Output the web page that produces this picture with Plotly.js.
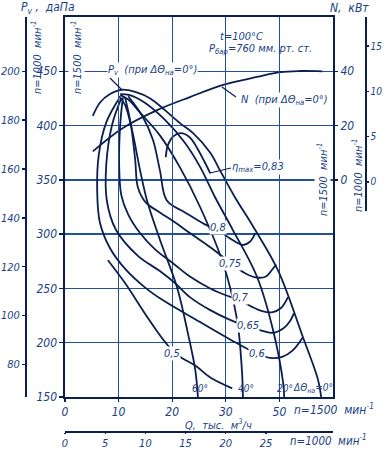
<!DOCTYPE html>
<html><head><meta charset="utf-8">
<script src="https://cdn.plot.ly/plotly-3.0.1.min.js"></script>
<style>html,body{margin:0;padding:0;background:#fff}#chart{width:384px;height:450px}</style>
</head><body><div id="chart"></div>
<script>
// ---- data (n = 1500 min^-1 scales) ----
// Q in thousand m3/h, Pv in daPa, N in kW
const q_0deg  = [5.2,6.5,8.4,10.6,13.1,15.9,18.7,21.5,23.9,27.1,28.9,31.7,35.1,39.7,44.4,47.2,47.8];
const p_0deg  = [409,421,429,433,431,425,414,402,393,375,359,334,307,267,205,166,150];
const q_20deg = [10.3,12.1,14.9,18.7,22.4,25.2,28.0,31.3,35.8,38.8,40.7,40.9];
const p_20deg = [429,428,421,405,384,362,334,304,261,212,163,150];
const q_40deg = [10.3,11.8,14.0,17.7,21.5,25.2,29.5,32.1,33.0,33.2];
const p_40deg = [428,424,412,391,361,325,273,221,175,150];
const q_60deg = [10.1,11.2,12.5,14.0,15.3,17.7,20.9,23.0,24.3,24.8];
const p_60deg = [427,419,396,359,331,295,251,207,175,150];

const q_eta083 = [18.8,19.2,20.2,21.6,23.3,24.8,26.1,27.1];
const p_eta083 = [371,382,390,393,389,378,366,356];
const q_eta080 = [11.8,14.4,16.4,17.7,19.0,22.4,26.1,28.5,30.8,33.2,34.5,35.5];
const p_eta080 = [427,409,387,359,331,320,309,304,296,290,293,301];
const q_eta075 = [11.2,12.3,13.1,13.6,15.1,17.7,20.5,23.3,27.1,30.8,33.6,35.8,37.5,38.6,39.4];
const p_eta075 = [426,401,368,343,329,320,311,301,288,274,264,260,261,267,272];
const q_eta070 = [10.8,10.3,10.1,10.5,11.8,14.0,16.8,20.2,23.3,27.1,30.4,32.7,34.9,36.8,38.6,40.3,41.6];
const p_eta070 = [426,401,364,336,318,301,286,273,261,250,243,239,233,229,228,232,242];
const q_eta065 = [10.5,8.8,7.7,7.8,9.5,13.6,17.7,20.5,23.3,27.1,30.8,34.1,36.8,38.8,40.7,42.0,42.7];
const p_eta065 = [425,401,364,331,304,280,266,255,242,230,221,215,211,209,213,220,227];
const q_eta060 = [10.1,7.7,6.3,6.0,6.5,8.4,11.4,14.9,18.3,25.2,30.8,35.8,38.3,40.5,42.5,44.4];
const p_eta060 = [425,403,373,341,311,287,267,251,239,219,203,190,186,187,193,205];
const q_eta050 = [8.0,11.2,14.9,18.3,20.0,21.8,24.3,27.1,31.2];
const p_eta050 = [276,255,227,203,193,186,179,168,158];

const q_power = [5.2,10.8,17.2,23.3,29.5,35.8,40.1,44.0,48.0];
const n_power = [10.5,19.1,25.7,30.5,35.0,37.9,39.7,40.1,40.0];

// tick labels
const q1500_ticks = [0,10,20,30,40];
const q1500_text  = ['0','10','20','30','50'];
const q1000_ticks = [0,5,10,15,20,25];
const p1500_ticks = [150,200,250,300,350,400,450];
const p1000_ticks = [80,100,120,140,160,180,200];
const n1500_ticks = [0,20,40];
const n1000_ticks = [0,5,10,15];

// ---- styling ----
const W=384,H=450;
const px=x=>x/W, py=y=>1-y/H;
const LINE='#0a1f4f', GRID='#22509a', TXT='#1a3f85';
const FONT={family:'"Liberation Sans Narrow","DejaVu Sans Condensed","Liberation Sans",sans-serif',style:'italic',color:TXT,size:12};
const f=(s)=>Object.assign({},FONT,{size:s});

function curve(q,p,ya){return {type:'scatter',mode:'lines',x:q,y:p,xaxis:'x',yaxis:ya||'y',
  line:{color:LINE,width:1.8,shape:'spline',smoothing:1},hoverinfo:'skip',showlegend:false};}
const traces=[
  curve(q_0deg,p_0deg),curve(q_20deg,p_20deg),curve(q_40deg,p_40deg),curve(q_60deg,p_60deg),
  curve(q_eta083,p_eta083),curve(q_eta080,p_eta080),curve(q_eta075,p_eta075),curve(q_eta070,p_eta070),
  curve(q_eta065,p_eta065),curve(q_eta060,p_eta060),curve(q_eta050,p_eta050),
  curve(q_power,n_power,'y2'),
  {type:'scatter',x:[],y:[],xaxis:'x',yaxis:'y3',showlegend:false,hoverinfo:'skip'},
  {type:'scatter',x:[],y:[],xaxis:'x',yaxis:'y4',showlegend:false,hoverinfo:'skip'},
  {type:'scatter',x:[],y:[],xaxis:'x2',yaxis:'y',showlegend:false,hoverinfo:'skip'}
];

function ann(text,x,y,o){return Object.assign({text:text,x:px(x),y:py(y),xref:'paper',yref:'paper',
  showarrow:false,xanchor:'center',yanchor:'middle',font:f(11)},o||{});}
function annD(text,q,p,o){return Object.assign({text:text,x:q,y:p,xref:'x',yref:'y',showarrow:false,
  bgcolor:'white',borderpad:0,font:f(11)},o||{});}
const WB={bgcolor:'white',borderpad:0};
const annotations=[
  ann('P<sub>v</sub> ,  даПа',48,8,{font:f(12)}),
  ann('N,  кВт',349,8,{font:f(12)}),
  ann('n=1000  мин<sup>-1</sup>',37,58,{textangle:-90}),
  ann('n=1500  мин<sup>-1</sup>',77,58,Object.assign({textangle:-90},WB)),
  ann('n=1500  мин<sup>-1</sup>',322,180,Object.assign({textangle:-90},WB)),
  ann('n=1000  мин<sup>-1</sup>',357,176,{textangle:-90}),
  ann('t=100°C',218,37,{xanchor:'left'}),
  ann('P<sub>бар</sub>=760 мм. рт. ст.',207,49,{xanchor:'left'}),
  ann('P<sub>v</sub>  (при ΔΘ<sub>на</sub>=0°)',152,70,WB),
  ann('N  (при ΔΘ<sub>на</sub>=0°)',284,100,WB),
  ann('η<sub>max</sub>=0,83',258,167,WB),
  ann('60°',200,388,{font:f(10)}),
  ann('40°',246,388,{font:f(10)}),
  ann('20°',285,388,{font:f(10)}),
  ann('ΔΘ<sub>на</sub>=0°',313,388,{font:f(10)}),
  ann('n=1500  мин<sup>-1</sup>',292,409,{xanchor:'left',font:f(12)}),
  ann('Q,  тыс.  м<sup>3</sup>/ч',218,424,{font:f(11)}),
  ann('n=1000  мин<sup>-1</sup>',288,440,{xanchor:'left',font:f(11.5)}),
  annD('0,8',28.5,305.7), annD('0,75',30.8,273.4), annD('0,7',32.6,241.2),
  annD('0,65',34.1,216.3), annD('0,6',35.8,190.5), annD('0,5',20.0,190.5)
];
function seg(x0,y0,x1,y1){return {type:'line',xref:'paper',yref:'paper',x0:px(x0),y0:py(y0),x1:px(x1),y1:py(y1),line:{color:LINE,width:1.2}};}
const shapes=[seg(110,78,122,90),seg(236,97,222,87),seg(231,168,210,173)];

const axBase={showgrid:false,zeroline:false,showline:true,linecolor:LINE,linewidth:1.6,ticks:'outside',
  tickcolor:LINE,tickwidth:1.3,tickfont:f(12),fixedrange:true,tickmode:'array'};
const layout={
  width:W,height:H,margin:{l:0,r:0,t:0,b:0},paper_bgcolor:'white',plot_bgcolor:'rgba(0,0,0,0)',
  font:FONT,showlegend:false,
  xaxis:Object.assign({},axBase,{domain:[px(65),px(333)],range:[0,50],tickvals:q1500_ticks,ticktext:q1500_text,
    showgrid:true,gridcolor:GRID,gridwidth:1.3,mirror:true,ticklen:3,anchor:'y'}),
  xaxis2:Object.assign({},axBase,{overlaying:'x',anchor:'free',position:py(431),side:'bottom',range:[0,100/3],
    tickvals:q1000_ticks,ticklen:1,tickfont:f(11)}),
  yaxis:Object.assign({},axBase,{domain:[py(397),py(17)],range:[150,500],tickvals:p1500_ticks,
    showgrid:true,gridcolor:GRID,gridwidth:1.3,mirror:true,ticklen:4,anchor:'x'}),
  yaxis2:Object.assign({},axBase,{overlaying:'y',side:'right',anchor:'x',range:[-80,60],tickvals:n1500_ticks,
    showline:false,ticklen:4}),
  yaxis3:Object.assign({},axBase,{overlaying:'y',anchor:'free',position:px(25),side:'left',
    range:[150*4/9,500*4/9],tickvals:p1000_ticks,ticklen:3,tickfont:f(11)}),
  yaxis4:Object.assign({},axBase,{anchor:'free',position:px(365),side:'right',domain:[py(211),py(17)],
    range:[-3.2,18.2],tickvals:n1000_ticks,ticklen:2,tickfont:f(10)}),
  annotations:annotations,shapes:shapes
};
Plotly.newPlot('chart',traces,layout,{staticPlot:true,displayModeBar:false});
</script></body></html>
